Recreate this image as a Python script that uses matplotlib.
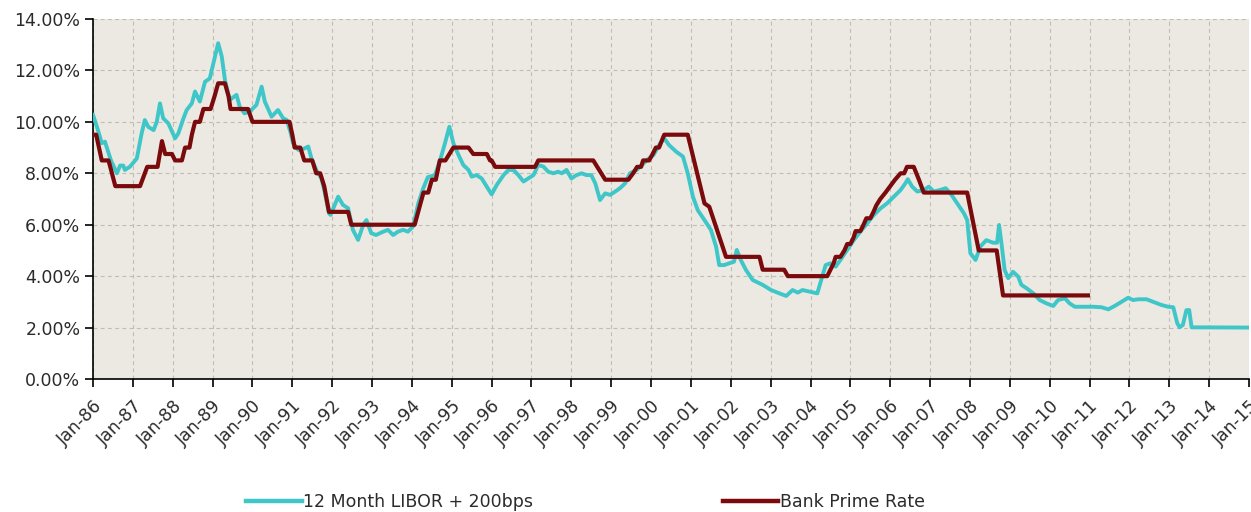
import matplotlib
matplotlib.use("Agg")
import matplotlib.pyplot as plt
from matplotlib.lines import Line2D

# ---- Data ----
libor_t = [1986.00, 1986.10, 1986.22, 1986.30, 1986.45, 1986.60, 1986.68, 1986.76, 1986.80, 1986.93,
           1987.10, 1987.22, 1987.30, 1987.39, 1987.52, 1987.60, 1987.68, 1987.76, 1987.89, 1988.06,
           1988.14, 1988.27, 1988.35, 1988.48, 1988.56, 1988.68, 1988.81, 1988.93, 1989.06, 1989.14,
           1989.23, 1989.31, 1989.43, 1989.60, 1989.68, 1989.80, 1989.93, 1990.10, 1990.23, 1990.31,
           1990.48, 1990.64, 1990.77, 1990.86, 1990.95, 1991.02, 1991.15, 1991.28, 1991.40, 1991.48,
           1991.60, 1991.73, 1991.81, 1991.92, 1991.96, 1992.15, 1992.27, 1992.40, 1992.52, 1992.65,
           1992.78, 1992.86, 1992.98, 1993.10, 1993.28, 1993.40, 1993.53, 1993.65, 1993.78, 1993.90,
           1994.03, 1994.16, 1994.28, 1994.40, 1994.58, 1994.71, 1994.83, 1994.94, 1995.04, 1995.17,
           1995.29, 1995.42, 1995.50, 1995.62, 1995.75, 1995.88, 1996.00, 1996.13, 1996.30, 1996.42,
           1996.55, 1996.67, 1996.80, 1996.92, 1997.05, 1997.17, 1997.30, 1997.42, 1997.55, 1997.67,
           1997.76, 1997.88, 1998.00, 1998.13, 1998.26, 1998.38, 1998.50, 1998.60, 1998.72, 1998.85,
           1998.97, 1999.10, 1999.22, 1999.35, 1999.47, 1999.64, 1999.77, 1999.90, 2000.06, 2000.23,
           2000.33, 2000.45, 2000.63, 2000.80, 2000.92, 2001.05, 2001.17, 2001.34, 2001.50, 2001.63,
           2001.71, 2001.83, 2001.96, 2002.08, 2002.15, 2002.25, 2002.38, 2002.55, 2002.80, 2003.01,
           2003.22, 2003.39, 2003.55, 2003.68, 2003.80, 2003.97, 2004.17, 2004.29, 2004.38, 2004.50,
           2004.63, 2004.75, 2004.92, 2005.09, 2005.25, 2005.42, 2005.59, 2005.76, 2005.92, 2006.09,
           2006.26, 2006.38, 2006.44, 2006.55, 2006.68, 2006.84, 2006.97, 2007.09, 2007.25, 2007.39,
           2007.51, 2007.68, 2007.85, 2007.93, 2008.01, 2008.14, 2008.26, 2008.41, 2008.58, 2008.68,
           2008.73, 2008.79, 2008.87, 2008.96, 2009.08, 2009.21, 2009.29, 2009.42, 2009.59, 2009.75,
           2009.92, 2010.09, 2010.21, 2010.38, 2010.50, 2010.63, 2010.84, 2011.09, 2011.30, 2011.47,
           2011.63, 2011.80, 2011.97, 2012.09, 2012.22, 2012.43, 2012.60, 2012.80, 2012.97, 2013.10,
           2013.20, 2013.26, 2013.34, 2013.43, 2013.50, 2013.56, 2015.00]
libor_v = [10.27, 9.80, 9.17, 9.23, 8.50, 8.00, 8.30, 8.30, 8.13, 8.26,
           8.58, 9.55, 10.07, 9.80, 9.68, 10.00, 10.72, 10.14, 9.94, 9.36,
           9.55, 10.14, 10.46, 10.72, 11.18, 10.79, 11.56, 11.69, 12.54, 13.06,
           12.54, 11.63, 10.85, 11.05, 10.59, 10.33, 10.40, 10.66, 11.37, 10.79,
           10.20, 10.46, 10.14, 10.07, 9.62, 9.17, 8.91, 8.95, 9.04, 8.58,
           8.13, 7.80, 7.29, 6.44, 6.38, 7.09, 6.77, 6.64, 5.80, 5.41,
           6.00, 6.18, 5.67, 5.60, 5.73, 5.80, 5.60, 5.73, 5.80, 5.73,
           5.93, 6.83, 7.40, 7.85, 7.93, 8.52, 9.17, 9.81, 9.17, 8.71,
           8.32, 8.13, 7.87, 7.93, 7.80, 7.48, 7.18, 7.55, 7.93, 8.13,
           8.13, 7.93, 7.68, 7.80, 7.93, 8.32, 8.26, 8.06, 8.00, 8.06,
           8.00, 8.13, 7.80, 7.93, 8.00, 7.93, 7.93, 7.61, 6.96, 7.22,
           7.16, 7.29, 7.42, 7.61, 8.00, 8.13, 8.32, 8.52, 8.71, 9.17,
           9.36, 9.10, 8.84, 8.65, 8.00, 7.09, 6.57, 6.18, 5.80, 5.15,
           4.43, 4.43, 4.50, 4.56, 5.02, 4.63, 4.24, 3.85, 3.66, 3.46,
           3.33, 3.23, 3.46, 3.36, 3.46, 3.40, 3.33, 3.95, 4.43, 4.50,
           4.37, 4.63, 5.02, 5.41, 5.73, 6.05, 6.38, 6.64, 6.83, 7.09,
           7.35, 7.61, 7.77, 7.48, 7.29, 7.35, 7.48, 7.29, 7.35, 7.42,
           7.22, 6.83, 6.44, 6.18, 4.89, 4.63, 5.15, 5.40, 5.30, 5.30,
           5.99, 5.28, 4.24, 3.92, 4.17, 3.98, 3.66, 3.53, 3.33, 3.07,
           2.94, 2.84, 3.07, 3.14, 2.94, 2.81, 2.81, 2.81, 2.79, 2.71,
           2.84, 3.00, 3.16, 3.07, 3.10, 3.10, 3.00, 2.88, 2.81, 2.79,
           2.17, 2.01, 2.10, 2.68, 2.68, 2.01, 2.00]

prime_t = [1986.00, 1986.08, 1986.22, 1986.39, 1986.56, 1987.18, 1987.30, 1987.36, 1987.62, 1987.73,
           1987.81, 1987.98, 1988.06, 1988.23, 1988.31, 1988.42, 1988.48, 1988.56, 1988.68, 1988.77,
           1988.95, 1989.05, 1989.14, 1989.31, 1989.40, 1989.45, 1989.89, 1990.00, 1990.93, 1991.00,
           1991.06, 1991.20, 1991.30, 1991.50, 1991.60, 1991.70, 1991.80, 1991.92, 1992.40, 1992.48,
           1994.07, 1994.29, 1994.41, 1994.50, 1994.60, 1994.70, 1994.84, 1995.04, 1995.42, 1995.54,
           1995.88, 1995.96, 1996.00, 1996.09, 1997.09, 1997.17, 1998.55, 1998.85, 1999.43, 1999.55,
           1999.65, 1999.75, 1999.80, 1999.95, 2000.04, 2000.12, 2000.20, 2000.33, 2000.92, 2001.34,
           2001.46, 2001.88, 2002.72, 2002.80, 2003.34, 2003.43, 2004.42, 2004.50, 2004.58, 2004.63,
           2004.75, 2004.85, 2004.92, 2005.00, 2005.08, 2005.13, 2005.25, 2005.33, 2005.40, 2005.50,
           2005.58, 2005.65, 2005.75, 2005.88, 2006.00, 2006.12, 2006.26, 2006.35, 2006.42, 2006.59,
           2006.72, 2006.84, 2007.93, 2008.22, 2008.67, 2008.83, 2010.96]
prime_v = [9.50, 9.50, 8.50, 8.50, 7.50, 7.50, 8.00, 8.25, 8.25, 9.25,
           8.75, 8.75, 8.50, 8.50, 9.00, 9.00, 9.50, 10.00, 10.00, 10.50,
           10.50, 11.00, 11.50, 11.50, 11.00, 10.50, 10.50, 10.00, 10.00, 9.50,
           9.00, 9.00, 8.50, 8.50, 8.00, 8.00, 7.50, 6.50, 6.50, 6.00,
           6.00, 7.25, 7.25, 7.75, 7.75, 8.50, 8.50, 9.00, 9.00, 8.75,
           8.75, 8.50, 8.50, 8.25, 8.25, 8.50, 8.50, 7.75, 7.75, 8.00,
           8.25, 8.25, 8.50, 8.50, 8.75, 9.00, 9.00, 9.50, 9.50, 6.83,
           6.70, 4.75, 4.75, 4.25, 4.25, 4.00, 4.00, 4.25, 4.50, 4.75,
           4.75, 5.00, 5.25, 5.25, 5.50, 5.75, 5.75, 6.00, 6.25, 6.25,
           6.50, 6.75, 7.00, 7.25, 7.50, 7.75, 8.00, 8.00, 8.25, 8.25,
           7.75, 7.25, 7.25, 5.00, 5.00, 3.25, 3.25]

years = list(range(1986, 2016))
tick_labels = ["Jan-%02d" % (y % 100) for y in years]
y_ticks = [0, 2, 4, 6, 8, 10, 12, 14]
series_names = ["12 Month LIBOR + 200bps", "Bank Prime Rate"]

# ---- Styling ----
CYAN = "#3EC6C8"
DARKRED = "#7A0A0C"
FS = 12.5
TXT = "#2b2b2b"

fig = plt.figure(figsize=(12.51, 5.12), dpi=100)
fig.patch.set_facecolor("white")
ax = fig.add_axes([93 / 1251, 1 - 379 / 512, (1249 - 93) / 1251, (379 - 19) / 512])
ax.set_facecolor("#ECE9E2")

ax.plot(libor_t, libor_v, color=CYAN, lw=2.8, solid_joinstyle="round", zorder=3)
ax.plot(prime_t, prime_v, color=DARKRED, lw=3.0, solid_joinstyle="round", zorder=4)

ax.set_xlim(1986, 2015)
ax.set_ylim(0, 14)
ax.set_xticks(years)
ax.set_xticklabels(tick_labels, rotation=45, ha="right", va="top",
                   rotation_mode="anchor", fontsize=FS, color=TXT)
ax.set_yticks(y_ticks)
ax.set_yticklabels(["%.2f%%" % v for v in y_ticks], fontsize=FS, color=TXT)

ax.grid(True, color="#C0BDB7", linestyle=(0, (3.5, 3)), linewidth=0.8, zorder=1)
ax.set_axisbelow(True)
for s in ["top", "right"]:
    ax.spines[s].set_visible(False)
for s in ["left", "bottom"]:
    ax.spines[s].set_color("black")
    ax.spines[s].set_linewidth(1.2)
ax.tick_params(axis="both", direction="out", length=6, width=1.2, color="black")
ax.tick_params(axis="x", pad=7)
ax.tick_params(axis="y", pad=3)

handles = [Line2D([0], [0], color=CYAN, lw=3.2),
           Line2D([0], [0], color=DARKRED, lw=3.2)]
fig.legend(handles, series_names, loc="center", bbox_to_anchor=(0.468, 0.020),
           ncol=2, frameon=False, fontsize=FS, handlelength=3.2, handletextpad=0.1,
           columnspacing=10.9, labelcolor=TXT)

fig.savefig("out.png", dpi=100, facecolor="white")
